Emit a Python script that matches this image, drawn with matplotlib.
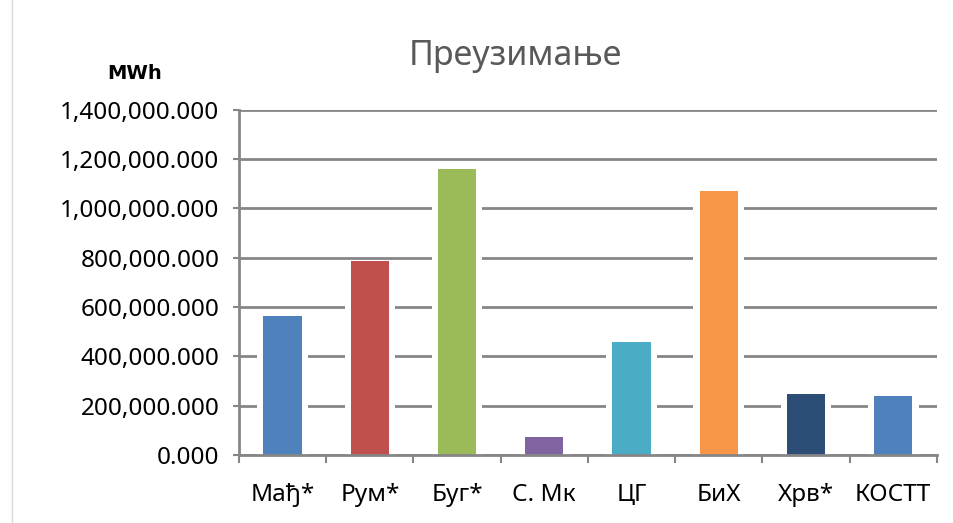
import matplotlib
matplotlib.use("Agg")
from matplotlib import pyplot as plt
from matplotlib.lines import Line2D
import numpy as np

plt.rcParams['font.family'] = ['Noto Sans', 'DejaVu Sans']

categories = ["Мађ*", "Рум*", "Буг*", "С. Мк", "ЦГ", "БиХ", "Хрв*", "КОСТТ"]
values = [565000, 785000, 1160000, 75000, 460000, 1072000, 248000, 240000]
colors = ["#4F81BD", "#C0504D", "#9BBB59", "#8064A2", "#4BACC6", "#F79646", "#2C4D75", "#4F81BD"]
yticks = np.arange(0, 1400001, 200000)

grid_c = "#868686"

fig = plt.figure(figsize=(9.54, 5.23), dpi=100)
ax = fig.add_axes([0.2505, 0.130, 0.7315, 0.660])

x = np.arange(len(categories))
# white gap around each bar, then the bar itself
ax.bar(x, values, width=0.58, color="white", linewidth=0, zorder=2)
ax.bar(x, values, width=0.44, color=colors, linewidth=0, zorder=3)

ax.set_xlim(-0.5, len(categories) - 0.5)
ax.set_ylim(0, 1400000)
ax.set_yticks(yticks)
ax.set_yticklabels([f"{v:,.3f}" for v in yticks])
ax.yaxis.grid(True, color=grid_c, linewidth=2, zorder=1)
ax.set_axisbelow(True)

# category ticks at boundaries, labels centred
ax.set_xticks(np.arange(-0.5, len(categories)), minor=False)
ax.set_xticklabels([])
ax.set_xticks(x, minor=True)
ax.set_xticklabels(categories, minor=True)
ax.tick_params(axis='x', which='major', length=6, width=1.5, color=grid_c, direction='out')
ax.tick_params(axis='x', which='minor', length=0, pad=20, labelsize=17.5)
ax.tick_params(axis='y', length=4, width=1.5, color=grid_c, pad=10, labelsize=17.5)

for s in ['top', 'right']:
    ax.spines[s].set_visible(False)
for s in ['left', 'bottom']:
    ax.spines[s].set_color(grid_c)
    ax.spines[s].set_linewidth(2)
    ax.spines[s].set_zorder(4)

fig.text(0.54, 0.892, "Преузимање", ha='center', va='center', fontsize=24.5, color="#595959")
fig.text(0.141, 0.86, "MWh", ha='center', va='center', fontsize=14, fontweight='bold',
         family=['DejaVu Sans'])

# chart frame edge on the left
fig.add_artist(Line2D([0.0125, 0.0125], [0, 1], color="#D9D9D9", linewidth=1))

fig.savefig("out.png", dpi=100)
